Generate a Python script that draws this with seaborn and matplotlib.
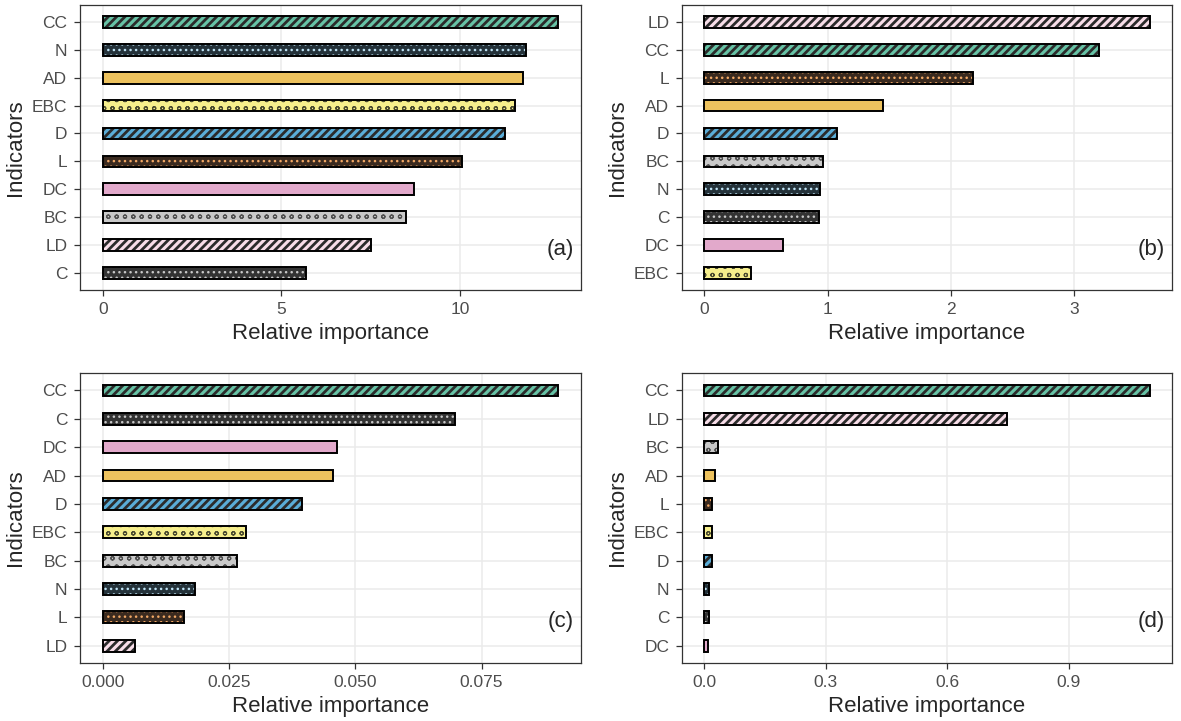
import matplotlib
matplotlib.use('Agg')
import matplotlib.pyplot as plt
import seaborn as sns
import pandas as pd
from matplotlib.patches import Rectangle
from matplotlib.ticker import FormatStrFormatter

# ── data ─────────────────────────────────────────────────────
a_labels = ['CC', 'N', 'AD', 'EBC', 'D', 'L', 'DC', 'BC', 'LD', 'C']
a_values = [12.75, 11.85, 11.75, 11.55, 11.25, 10.05, 8.70, 8.50, 7.50, 5.70]

b_labels = ['LD', 'CC', 'L', 'AD', 'D', 'BC', 'N', 'C', 'DC', 'EBC']
b_values = [3.61, 3.20, 2.18, 1.445, 1.075, 0.965, 0.94, 0.93, 0.635, 0.38]

c_labels = ['CC', 'C', 'DC', 'AD', 'D', 'EBC', 'BC', 'N', 'L', 'LD']
c_values = [0.0902, 0.0697, 0.0464, 0.0456, 0.0395, 0.0284, 0.0266, 0.0183, 0.0161, 0.0064]

d_labels = ['CC', 'LD', 'BC', 'AD', 'L', 'EBC', 'D', 'N', 'C', 'DC']
d_values = [1.10, 0.748, 0.035, 0.027, 0.019, 0.019, 0.018, 0.012, 0.012, 0.010]

# ── per-indicator fill / pattern ─────────────────────────────
fill = {'CC': '#66C2A5', 'N': '#24323A', 'AD': '#EDC25E', 'EBC': '#F6EE8C',
        'D': '#5AADD8', 'L': '#3A2A1F', 'DC': '#E2A9CB', 'BC': '#C9C9C9',
        'LD': '#F7DDE8', 'C': '#333333'}
hatch = {'CC': '////', 'N': '...', 'AD': '', 'EBC': 'oo', 'D': '////',
         'L': '...', 'DC': '', 'BC': 'oo', 'LD': '////', 'C': '...'}
hatch_col = {'CC': '#2B2B2B', 'N': '#BFE3F5', 'AD': '#000000', 'EBC': '#4A4A30',
             'D': '#2B2B2B', 'L': '#F2A865', 'DC': '#000000', 'BC': '#505050',
             'LD': '#2B2B2B', 'C': '#C8C8C8'}
hatch_lw = {'/': 2.0, '.': 1.0, 'o': 0.8}

sns.set_theme(style='whitegrid')
plt.rcParams['font.family'] = ['Liberation Sans', 'DejaVu Sans']
plt.rcParams['hatch.linewidth'] = 1.5


def draw(ax, labels, values, ticks, fmt, tag):
    df = pd.DataFrame({'Indicator': labels, 'Importance': values})
    sns.barplot(data=df, x='Importance', y='Indicator', hue='Indicator',
                order=labels, hue_order=labels,
                palette={k: fill[k] for k in labels}, saturation=1,
                width=0.42, linewidth=0, legend=False, ax=ax)
    for p in list(ax.patches):
        name = labels[int(round(p.get_y() + p.get_height() / 2))]
        p.set_hatch(hatch[name])
        p.set_edgecolor(hatch_col[name])
        p.set_linewidth(0)
        if hatch[name] and hasattr(p, 'set_hatch_linewidth'):
            p.set_hatch_linewidth(hatch_lw[hatch[name][0]])
        ax.add_patch(Rectangle((p.get_x(), p.get_y()), p.get_width(), p.get_height(),
                               fill=False, ec='black', lw=1.4, zorder=p.get_zorder() + 0.1))

    vmax = max(values)
    ax.set_xlim(-0.05 * vmax, 1.05 * vmax)
    ax.set_ylim(len(labels) - 0.4, -0.6)
    ax.set_xticks(ticks)
    ax.xaxis.set_major_formatter(FormatStrFormatter(fmt))
    ax.set_xlabel('Relative importance', fontsize=16, labelpad=4)
    ax.set_ylabel('Indicators', fontsize=16, labelpad=4)
    ax.grid(True, color='#EBEBEB', lw=1.1)
    ax.tick_params(axis='both', labelsize=12.5, colors='#333333',
                   length=4, width=0.9, pad=5, left=True, bottom=True)
    ax.tick_params(labelcolor='#4D4D4D')
    for s in ax.spines.values():
        s.set_color('#333333')
        s.set_linewidth(0.9)
    ax.text(0.985, 1.45 / (len(labels) + 0.2), tag, transform=ax.transAxes,
            ha='right', va='center', fontsize=16)


fig = plt.figure(figsize=(11.81, 7.21), dpi=100)
ax_a = fig.add_axes([0.0677, 0.598, 0.4243, 0.395])
ax_b = fig.add_axes([0.5775, 0.598, 0.4149, 0.395])
ax_c = fig.add_axes([0.0677, 0.081, 0.4243, 0.401])
ax_d = fig.add_axes([0.5775, 0.081, 0.4149, 0.401])

draw(ax_a, a_labels, a_values, [0, 5, 10], '%g', '(a)')
draw(ax_b, b_labels, b_values, [0, 1, 2, 3], '%g', '(b)')
draw(ax_c, c_labels, c_values, [0, 0.025, 0.05, 0.075], '%.3f', '(c)')
draw(ax_d, d_labels, d_values, [0, 0.3, 0.6, 0.9], '%.1f', '(d)')

plt.savefig('out.png', dpi=100)
plt.close()
